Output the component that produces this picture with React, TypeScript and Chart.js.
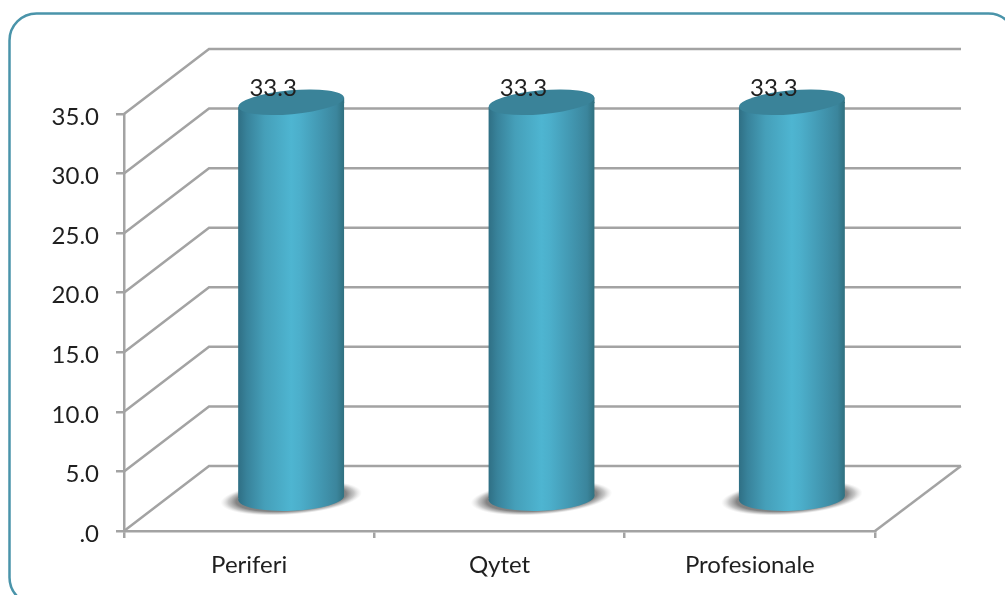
import { useEffect, useRef } from "react";
import { Chart, registerables } from "chart.js";

Chart.register(...registerables);

const categories = ["Periferi", "Qytet", "Profesionale"];
const shares = [33.3, 33.3, 33.3];
const yTickStep = 5;
const yMax = 35;

const FONT = "Lato";
const GRID = "#a3a3a3";
const TEXT = "#1f1f1f";

// Offset of the back wall and of the cylinder axis from the front plane.
const WALL_DX = 85;
const WALL_DY = -65;
const BAR_DX = 42;
const BAR_DY = -32;
const TOP_RY = 12;
const TOP_TILT = -0.09;
const FOOT_RY = 13;
const FOOT_TILT = -0.04;

function bodyGradient(ctx: CanvasRenderingContext2D, cx: number, hw: number) {
  const g = ctx.createLinearGradient(cx - hw, 0, cx + hw, 0);
  g.addColorStop(0, "#2f6f84");
  g.addColorStop(0.08, "#38829a");
  g.addColorStop(0.25, "#459fb9");
  g.addColorStop(0.5, "#4eb5d1");
  g.addColorStop(0.58, "#4cafcb");
  g.addColorStop(0.78, "#4297b1");
  g.addColorStop(0.93, "#3b859c");
  g.addColorStop(1, "#30707f");
  return g;
}

const framePlugin = {
  id: "frame",
  beforeDraw(chart: any) {
    const { ctx } = chart;
    ctx.save();
    ctx.fillStyle = "#ffffff";
    ctx.fillRect(0, 0, chart.width, chart.height);
    ctx.strokeStyle = "#4a94aa";
    ctx.lineWidth = 2.5;
    ctx.beginPath();
    ctx.roundRect(9.5, 13.5, 1006, 591, 27);
    ctx.stroke();
    ctx.restore();
  },
};

// Side wall, back wall and floor, hung on the value-axis ticks.
const wallsPlugin = {
  id: "walls",
  beforeDatasetsDraw(chart: any) {
    const { ctx, scales, chartArea } = chart;
    ctx.save();
    ctx.strokeStyle = GRID;
    ctx.lineWidth = 2.5;
    for (const tick of scales.y.ticks) {
      const y = scales.y.getPixelForValue(tick.value);
      ctx.beginPath();
      ctx.moveTo(chartArea.left, y);
      ctx.lineTo(chartArea.left + WALL_DX, y + WALL_DY);
      ctx.lineTo(chartArea.right + WALL_DX + 1, y + WALL_DY);
      ctx.stroke();
    }
    ctx.beginPath();
    ctx.moveTo(chartArea.right, chartArea.bottom);
    ctx.lineTo(chartArea.right + WALL_DX + 1, chartArea.bottom + WALL_DY);
    ctx.stroke();
    ctx.restore();
  },
};

// Turns each library-placed bar into a cylinder standing on the floor.
const cylinderPlugin = {
  id: "cylinder",
  beforeDatasetDraw(chart: any, args: any) {
    const { ctx } = chart;
    const meta = chart.getDatasetMeta(args.index);
    for (const bar of meta.data) {
      const cx = bar.x + BAR_DX;
      const baseY = bar.base + BAR_DY;
      const rx = bar.width / 2 + 18;
      ctx.save();
      ctx.translate(cx, baseY);
      ctx.rotate(-0.075);
      ctx.scale(1, 17 / rx);
      const s = ctx.createRadialGradient(0, 0, rx * 0.6, 0, 0, rx);
      s.addColorStop(0, "rgba(110,110,110,0.95)");
      s.addColorStop(0.45, "rgba(120,120,120,0.9)");
      s.addColorStop(0.72, "rgba(160,160,160,0.6)");
      s.addColorStop(1, "rgba(210,210,210,0)");
      ctx.fillStyle = s;
      ctx.beginPath();
      ctx.arc(0, 0, rx, 0, Math.PI * 2);
      ctx.fill();
      ctx.restore();
    }
    ctx.save();
    ctx.beginPath();
    for (const bar of meta.data) {
      const hw = bar.width / 2;
      const cx = bar.x + BAR_DX;
      const topY = bar.y + BAR_DY;
      const baseY = bar.base + BAR_DY;
      const topLift = Math.tan(TOP_TILT) * hw;
      const footLift = Math.tan(FOOT_TILT) * hw;
      ctx.moveTo(cx - hw, topY - topLift);
      ctx.lineTo(cx + hw, topY + topLift);
      ctx.lineTo(cx + hw, baseY + footLift);
      ctx.lineTo(cx - hw, baseY - footLift);
      ctx.closePath();
    }
    ctx.clip();
    ctx.translate(BAR_DX, BAR_DY);
  },
  afterDatasetDraw(chart: any, args: any) {
    const { ctx } = chart;
    ctx.restore();
    const meta = chart.getDatasetMeta(args.index);
    for (const bar of meta.data) {
      const hw = bar.width / 2;
      const cx = bar.x + BAR_DX;
      const topY = bar.y + BAR_DY;
      const topLift = Math.tan(TOP_TILT) * hw;
      ctx.fillStyle = bodyGradient(ctx, cx, hw);
      // Foot of the cylinder, then the wedge that joins the tilted rim to the body.
      ctx.beginPath();
      ctx.ellipse(cx, bar.base + BAR_DY, hw, FOOT_RY, FOOT_TILT, 0, Math.PI * 2);
      ctx.fill();
      ctx.beginPath();
      ctx.moveTo(cx, topY);
      ctx.lineTo(cx + hw, topY + topLift);
      ctx.lineTo(cx + hw, topY + 1);
      ctx.lineTo(cx, topY + 1);
      ctx.closePath();
      ctx.fill();
      ctx.fillStyle = "#3a8399";
      ctx.beginPath();
      ctx.ellipse(cx, topY, hw, TOP_RY, TOP_TILT, 0, Math.PI * 2);
      ctx.fill();
    }
  },
  afterDraw(chart: any) {
    const { ctx } = chart;
    const meta = chart.getDatasetMeta(0);
    ctx.save();
    ctx.font = `24px ${FONT}`;
    ctx.fillStyle = TEXT;
    ctx.textAlign = "center";
    ctx.textBaseline = "middle";
    meta.data.forEach((bar: any, i: number) => {
      ctx.fillText(shares[i].toFixed(1), bar.x + 24, bar.y - 46);
    });
    ctx.restore();
  },
};

export default function App() {
  const ref = useRef<HTMLCanvasElement | null>(null);

  useEffect(() => {
    if (!ref.current) return;
    const chart = new Chart(ref.current, {
      type: "bar",
      data: {
        labels: categories,
        datasets: [
          {
            label: "Share",
            data: shares,
            barThickness: 106,
            borderWidth: 0,
            backgroundColor: (c: any) => {
              const scale = c.chart.scales.x;
              const x = scale ? scale.getPixelForValue(c.dataIndex) : NaN;
              return Number.isFinite(x) ? bodyGradient(c.chart.ctx, x, 53) : "#45a0bb";
            },
          },
        ],
      },
      options: {
        responsive: false,
        animation: false,
        layout: { padding: { left: 0, top: 114, right: 130, bottom: 0 } },
        plugins: { legend: { display: false }, tooltip: { enabled: false } },
        scales: {
          x: {
            afterFit: (s: any) => {
              s.height = 64;
            },
            grid: {
              drawOnChartArea: false,
              color: GRID,
              lineWidth: 2.5,
              tickLength: 7,
            },
            border: { color: GRID, width: 2.5 },
            ticks: {
              color: TEXT,
              padding: 13,
              font: { family: FONT, size: 24 },
              maxRotation: 0,
            },
          },
          y: {
            min: 0,
            max: yMax,
            afterFit: (s: any) => {
              s.width = 124;
            },
            grid: {
              drawOnChartArea: false,
              color: GRID,
              lineWidth: 2.5,
              tickLength: 8,
            },
            border: { color: GRID, width: 2.5 },
            ticks: {
              stepSize: yTickStep,
              color: TEXT,
              padding: 17,
              labelOffset: 3,
              font: { family: FONT, size: 24 },
              callback: (v: any) => (v === 0 ? ".0" : Number(v).toFixed(1)),
            },
          },
        },
      },
      plugins: [framePlugin, wallsPlugin, cylinderPlugin],
    });
    return () => chart.destroy();
  }, []);

  return (
    <div style={{ position: "fixed", left: 0, top: 0, width: 1005, height: 595, overflow: "hidden" }}>
      <canvas ref={ref} width={1005} height={595} style={{ display: "block" }} />
    </div>
  );
}
